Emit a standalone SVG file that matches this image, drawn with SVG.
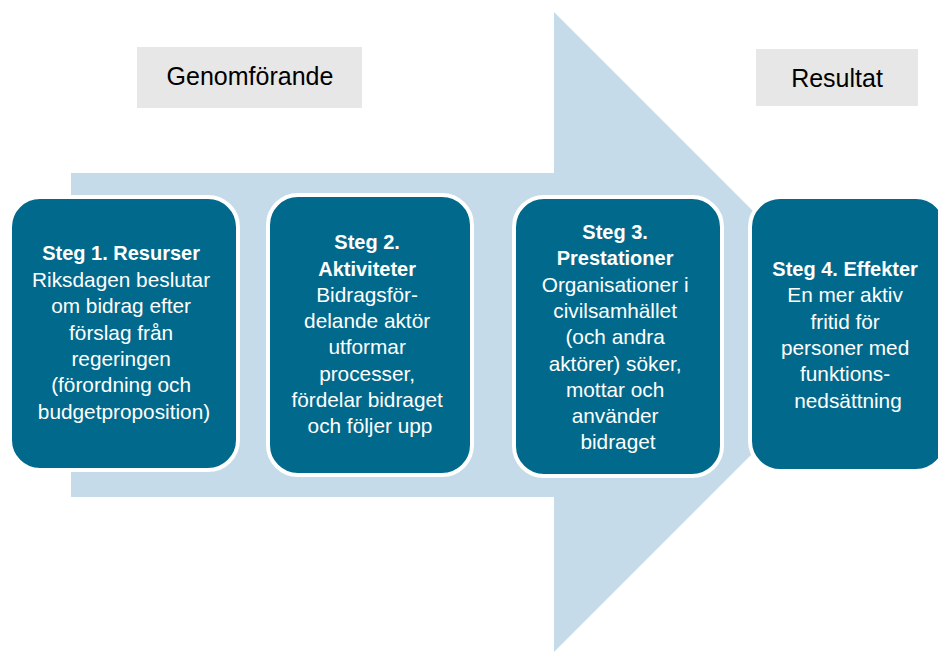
<svg xmlns="http://www.w3.org/2000/svg" width="938" height="653" viewBox="0 0 938 653">
<style>
.bg{fill:#ffffff}
.arrow{fill:#c5dbe9}
.label{fill:#e7e7e7}
.lt{font-family:"Liberation Sans",Arial,sans-serif;font-size:25px;fill:#000000;text-anchor:middle}
.box{fill:#016a8c;stroke:#ffffff;stroke-width:4}
.bt{font-family:"Liberation Sans",Arial,sans-serif;font-size:20.8px;fill:#ffffff;text-anchor:middle}
.bt .h{font-weight:bold;font-size:20px}
</style>
<rect class="bg" x="0" y="0" width="938" height="653"/>
<g id="connectors">
<polygon id="big-arrow" class="arrow" points="71,173 554,173 554,12 874,332 554,652 554,497 71,497"/>
</g>
<g id="label-genomforande">
<rect class="label" x="137" y="47" width="225" height="61"/>
<text class="lt" x="250" y="85">Genomförande</text>
</g>
<g id="label-resultat">
<rect class="label" x="756" y="49" width="162" height="57"/>
<text class="lt" x="837" y="87">Resultat</text>
</g>
<g id="step1">
<rect class="box" x="10" y="197" width="228" height="273" rx="30"/>
<text class="bt" x="124">
<tspan class="h" x="124" y="260">Steg 1. Resurser</tspan>
<tspan x="124" y="286.5">Riksdagen beslutar</tspan>
<tspan x="124" y="313">om bidrag efter</tspan>
<tspan x="124" y="339.5">förslag från</tspan>
<tspan x="124" y="366">regeringen</tspan>
<tspan x="124" y="392">(förordning och</tspan>
<tspan x="124" y="418.5">budgetproposition)</tspan>
</text>
</g>
<g id="step2">
<rect class="box" x="268" y="195" width="204" height="280" rx="30"/>
<text class="bt" x="370">
<tspan class="h" x="370" y="249">Steg 2.</tspan>
<tspan class="h" x="370" y="275.5">Aktiviteter</tspan>
<tspan x="370" y="302">Bidragsför-</tspan>
<tspan x="370" y="328">delande aktör</tspan>
<tspan x="370" y="354">utformar</tspan>
<tspan x="370" y="380.5">processer,</tspan>
<tspan x="370" y="407">fördelar bidraget</tspan>
<tspan x="370" y="433">och följer upp</tspan>
</text>
</g>
<g id="step3">
<rect class="box" x="514" y="197" width="208" height="279" rx="30"/>
<text class="bt" x="618">
<tspan class="h" x="618" y="239">Steg 3.</tspan>
<tspan class="h" x="618" y="265.3">Prestationer</tspan>
<tspan x="618" y="291.6">Organisationer i</tspan>
<tspan x="618" y="317.9">civilsamhället</tspan>
<tspan x="618" y="344.2">(och andra</tspan>
<tspan x="618" y="370.5">aktörer) söker,</tspan>
<tspan x="618" y="396.8">mottar och</tspan>
<tspan x="618" y="423.1">använder</tspan>
<tspan x="618" y="449.4">bidraget</tspan>
</text>
</g>
<g id="step4">
<rect class="box" x="750" y="197" width="196" height="274" rx="30"/>
<text class="bt" x="848">
<tspan class="h" x="848" y="276">Steg 4. Effekter</tspan>
<tspan x="848" y="302.3">En mer aktiv</tspan>
<tspan x="848" y="328.6">fritid för</tspan>
<tspan x="848" y="354.9">personer med</tspan>
<tspan x="848" y="381.2">funktions-</tspan>
<tspan x="848" y="407.5">nedsättning</tspan>
</text>
</g>
</svg>
